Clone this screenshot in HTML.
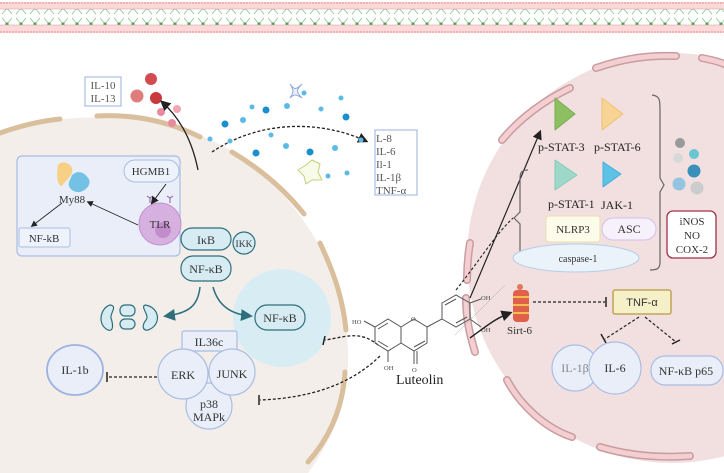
<!DOCTYPE html>
<html><head><meta charset="utf-8"><style>
html,body{margin:0;padding:0;background:#fff;}
svg{display:block;font-family:"Liberation Serif",serif;}
</style></head><body>
<svg width="724" height="473" viewBox="0 0 724 473" xmlns="http://www.w3.org/2000/svg">
<defs>
<pattern id="nv" x="0" y="0" width="14" height="16" patternUnits="userSpaceOnUse">
<path d="M2,2 L7,8 L12,2 M2,14 L7,8 L12,14" stroke="#7cbf7c" stroke-width="0.7" fill="none"/>
<circle cx="7" cy="8" r="1.6" fill="#4fa05a"/>
</pattern>
<marker id="ah" markerWidth="8" markerHeight="8" refX="6" refY="4" orient="auto"><path d="M0,0 L8,4 L0,8 Z" fill="#222"/></marker>
<marker id="aht" markerWidth="8" markerHeight="8" refX="6" refY="4" orient="auto"><path d="M0,0 L8,4 L0,8 Z" fill="#2f6f7c"/></marker>
</defs>
<!-- header band -->
<rect x="0" y="2" width="724" height="31" fill="#fdd9da"/>
<rect x="0" y="9" width="724" height="16" fill="#fff"/>
<rect x="0" y="9" width="724" height="16" fill="url(#nv)"/>
<line x1="0" y1="3" x2="724" y2="3" stroke="#e08a8a" stroke-dasharray="2,1"/>
<line x1="0" y1="32" x2="724" y2="32" stroke="#e08a8a" stroke-dasharray="2,1"/>
<line x1="0" y1="9" x2="724" y2="9" stroke="#c7a0a0" stroke-width="0.6"/>
<line x1="0" y1="25" x2="724" y2="25" stroke="#c7a0a0" stroke-width="0.6"/>

<!-- left cell -->
<path d="M0,132 C60,112 160,108 230,150 C300,195 345,270 348,350 C350,400 332,440 308,473 L0,473 Z" fill="#f3eeea"/>
<g stroke="#d9bf9c" stroke-width="5" fill="none" stroke-linecap="round">
<path d="M0,133 C20,126 40,121 60,119"/>
<path d="M97,116 C135,114 170,122 200,137"/>
<path d="M232,152 C262,170 285,190 304,214"/>
<path d="M320,243 C335,275 343,300 346,330"/>
<path d="M345,372 C343,405 332,435 308,462"/>
</g>

<!-- right cell -->
<circle cx="672" cy="258" r="205" fill="#f2e0e1"/>
<g stroke="#c99ca0" stroke-width="8" fill="none" stroke-linecap="round">
<path d="M502,140 C520,118 545,100 570,88"/>
<path d="M596,68 C625,58 650,55 676,56"/>
<path d="M702,58 C712,60 720,62 724,64"/>
<path d="M470,243 C468,255 467,265 467,280"/>
<path d="M466,298 C466,320 470,335 475,352"/>
<path d="M507,380 C520,405 545,428 572,437"/>
<path d="M600,447 C630,456 660,458 690,456"/>
</g>
<g stroke="#f4cfd1" stroke-width="5" fill="none" stroke-linecap="round">
<path d="M502,140 C520,118 545,100 570,88"/>
<path d="M596,68 C625,58 650,55 676,56"/>
<path d="M702,58 C712,60 720,62 724,64"/>
<path d="M470,243 C468,255 467,265 467,280"/>
<path d="M466,298 C466,320 470,335 475,352"/>
<path d="M507,380 C520,405 545,428 572,437"/>
<path d="M600,447 C630,456 660,458 690,456"/>
</g>

<!-- IL-10 box -->
<rect x="85" y="77" width="36" height="29" fill="#fff" stroke="#a9bde3" stroke-width="1.2"/>
<text x="103" y="89" font-size="11" text-anchor="middle" fill="#555">IL-10</text>
<text x="103" y="102" font-size="11" text-anchor="middle" fill="#555">IL-13</text>
<circle cx="151" cy="79" r="6" fill="#d24b4f"/>
<circle cx="137" cy="96" r="6.5" fill="#e07c7c"/>
<circle cx="156" cy="98" r="6" fill="#c8393d"/>
<circle cx="161" cy="112" r="4" fill="#ea8aa0"/>
<circle cx="177" cy="109" r="4" fill="#f2a6b4"/>
<circle cx="172" cy="123" r="4" fill="#ea8aa0"/>
<path d="M198,170 C192,140 180,118 162,102" stroke="#222" stroke-width="1.3" fill="none" marker-end="url(#ah)"/>

<!-- inner box -->
<rect x="17" y="156" width="163" height="100" rx="5" fill="#e9eef9" stroke="#a9bde3" stroke-width="1.2"/>
<rect x="124" y="160" width="55" height="22" rx="11" fill="#edf2fb" stroke="#a9bde3"/>
<text x="151" y="175" font-size="11" text-anchor="middle" fill="#333">HGMB1</text>
<path d="M58,165 C62,160 70,163 72,168 C74,175 66,180 62,186 C58,186 56,178 58,165Z" fill="#f7cf85"/>
<path d="M72,175 C78,170 84,172 88,178 C92,182 88,190 80,192 C72,193 66,186 70,180Z" fill="#73c2e6"/>
<text x="72" y="203" font-size="11" text-anchor="middle" fill="#333">My88</text>
<circle cx="160" cy="224" r="21" fill="#d6b1df" stroke="#c28fd0"/>
<circle cx="163" cy="230" r="8" fill="#c38ccd"/>
<path d="M150,203 l0,-5 m-3,-2 l3,2 l3,-2 M170,203 l0,-5 m-3,-2 l3,2 l3,-2" stroke="#8e5aa0" fill="none"/>
<text x="160" y="228" font-size="11" text-anchor="middle" fill="#333">TLR</text>
<path d="M166,184 L152,203" stroke="#222" marker-end="url(#ah)"/>
<path d="M138,225 L88,202" stroke="#222" stroke-width="0.8" marker-end="url(#ah)"/>
<path d="M62,203 L32,226" stroke="#222" stroke-width="0.8" marker-end="url(#ah)"/>
<rect x="19" y="228" width="51" height="19" rx="2" fill="#edf2fb" stroke="#a9bde3"/>
<text x="44" y="242" font-size="11" text-anchor="middle" fill="#333">NF-kB</text>

<!-- NF-kB complex -->
<rect x="181" y="228" width="50" height="22" rx="11" fill="#d6ecf2" stroke="#2f6f7c" stroke-width="1.2"/>
<text x="206" y="244" font-size="12" text-anchor="middle" fill="#333">IκB</text>
<circle cx="244" cy="243" r="11" fill="#d6ecf2" stroke="#2f6f7c" stroke-width="1.2"/>
<text x="244" y="247" font-size="9.5" text-anchor="middle" fill="#333">IKK</text>
<rect x="181" y="256" width="50" height="25" rx="12" fill="#d6ecf2" stroke="#2f6f7c" stroke-width="1.2"/>
<text x="206" y="273" font-size="12" text-anchor="middle" fill="#333">NF-κB</text>
<circle cx="282" cy="318" r="49" fill="#d7edf3"/>
<path d="M200,287 C198,305 190,313 166,316" stroke="#2f6f7c" stroke-width="1.5" fill="none" marker-end="url(#aht)"/>
<path d="M213,287 C218,305 230,314 250,316" stroke="#2f6f7c" stroke-width="1.5" fill="none" marker-end="url(#aht)"/>
<rect x="255" y="305" width="50" height="25" rx="12" fill="#d6ecf2" stroke="#2f6f7c" stroke-width="1.2"/>
<text x="280" y="322" font-size="12" text-anchor="middle" fill="#333">NF-κB</text>
<g fill="#d6ecf2" stroke="#2f6f7c" stroke-width="1.2">
<path d="M110,305 C100,308 97,325 108,330 C114,332 113,324 111,318 C110,313 118,306 110,305Z"/>
<rect x="120" y="305" width="15" height="11" rx="5"/>
<rect x="120" y="319" width="15" height="10" rx="5"/>
<path d="M145,305 C160,307 162,325 148,330 C142,331 142,325 146,320 C150,315 140,307 145,305Z"/>
</g>

<!-- MAPK -->
<rect x="182" y="331" width="55" height="20" rx="2" fill="#e9eef9" stroke="#a9bde3" stroke-width="1.2"/>
<text x="209" y="346" font-size="12" text-anchor="middle" fill="#333">IL36c</text>
<circle cx="209" cy="406" r="23" fill="#e9eef9" stroke="#a9bde3" stroke-width="1.2"/>
<circle cx="183" cy="374" r="25" fill="#e9eef9" stroke="#a9bde3" stroke-width="1.2"/>
<circle cx="232" cy="372" r="23" fill="#e9eef9" stroke="#a9bde3" stroke-width="1.2"/>
<text x="183" y="379" font-size="12" text-anchor="middle" fill="#333">ERK</text>
<text x="232" y="378" font-size="12" text-anchor="middle" fill="#333">JUNK</text>
<text x="209" y="408" font-size="12" text-anchor="middle" fill="#333">p38</text>
<text x="209" y="421" font-size="12" text-anchor="middle" fill="#333">MAPk</text>
<ellipse cx="75" cy="370" rx="28" ry="25" fill="#e9eef9" stroke="#9db2e0" stroke-width="1.8"/>
<text x="75" y="374" font-size="12" text-anchor="middle" fill="#333">IL-1b</text>
<path d="M157,377 L108,377" stroke="#222" stroke-width="1.3" stroke-dasharray="3,2"/>
<path d="M107,372 L107,382" stroke="#222" stroke-width="1.5"/>

<!-- Luteolin inhibition lines -->
<path d="M378,345 C360,330 345,337 325,340" stroke="#222" stroke-width="1.3" stroke-dasharray="3,2" fill="none"/>
<path d="M325,336 L323,345" stroke="#222" stroke-width="1.5"/>
<path d="M380,356 C350,385 310,398 260,400" stroke="#222" stroke-width="1.3" stroke-dasharray="3,2" fill="none"/>
<path d="M259,395 L259,405" stroke="#222" stroke-width="1.5"/>

<!-- cytokine cloud -->
<path d="M212,152 C260,120 320,120 366,141" stroke="#222" stroke-width="1.3" stroke-dasharray="3,2" fill="none" marker-end="url(#ah)"/>
<g fill="#1a8fcb">
<circle cx="225" cy="124" r="3.5"/><circle cx="266" cy="110" r="3.5"/><circle cx="256" cy="153" r="3.5"/><circle cx="310" cy="152" r="3.5"/><circle cx="346" cy="117" r="3.5"/></g>
<g fill="#5bbbe6">
<circle cx="210" cy="139" r="2.5"/><circle cx="243" cy="120" r="3"/><circle cx="252" cy="107" r="2.5"/><circle cx="287" cy="106" r="3"/><circle cx="304" cy="93" r="2.5"/><circle cx="321" cy="109" r="2.5"/><circle cx="341" cy="98" r="2.5"/><circle cx="230" cy="141" r="2.5"/><circle cx="271" cy="135" r="2.5"/><circle cx="286" cy="146" r="3"/><circle cx="335" cy="148" r="3"/><circle cx="328" cy="176" r="2.5"/><circle cx="347" cy="173" r="2.5"/><circle cx="361" cy="140" r="2.5"/></g>
<path d="M290,84 C294,90 296,90 302,84 C296,90 296,92 302,98 C296,94 294,94 290,98 C294,92 294,90 290,84Z" fill="#eaf0fb" stroke="#8ea6dc"/>
<path d="M306,165 L312,160 L320,164 L318,172 L322,180 L312,180 L306,184 L304,176 L298,170 Z" fill="#f8fbe9" stroke="#c2d07a" stroke-linejoin="round"/>
<rect x="375" y="130" width="42" height="65" fill="#fff" stroke="#a9bde3" stroke-width="1.2"/>
<g font-size="11" fill="#555"><text x="376" y="142">L-8</text><text x="376" y="155">IL-6</text><text x="376" y="168">Il-1</text><text x="376" y="181">IL-1β</text><text x="376" y="194">TNF-α</text></g>

<!-- Luteolin structure -->
<g stroke="#555" stroke-width="1" fill="none">
<path d="M375,327 L388,319 L401,327 L401,343 L388,351 L375,343 Z"/>
<path d="M378,329 L388,323 M378,341 L388,347"/>
<path d="M401,327 L414,319 L427,327 L427,343 L414,351 L401,343"/>
<path d="M425,341 L414,347"/>
<path d="M427,327 L442,319 L442,303 L456,295 L470,303 L470,319 L456,327 L442,319"/>
<path d="M445,305 L456,299 M467,317 L456,323"/>
<path d="M414,351 L414,364 M417,351 L417,364 M388,351 L388,362 M375,327 L364,321 M470,303 L481,299 M470,319 L481,327"/>
</g>
<g font-size="6.5" fill="#444"><text x="352" y="324">HO</text><text x="384" y="370">OH</text><text x="412" y="372">O</text><text x="411" y="321">O</text><text x="481" y="300">OH</text><text x="481" y="332">OH</text></g>
<text x="396" y="384" font-size="14" fill="#222">Luteolin</text>
<path d="M455,335 L505,285" stroke="#aaa" stroke-width="0.5"/>

<!-- Right cell content -->
<path d="M470,298 L540,132" stroke="#222" stroke-width="1.2" marker-end="url(#ah)"/>
<path d="M456,290 C480,260 495,235 513,218" stroke="#222" stroke-width="1.1" stroke-dasharray="3,2" fill="none"/>
<path d="M555,98 L575,114 L555,130 Z" fill="#8cc063" stroke="#78ad52" stroke-linejoin="round"/>
<path d="M602,98 L623,114 L602,130 Z" fill="#f8d494" stroke="#f0c070" stroke-linejoin="round"/>
<path d="M555,160 L577,175 L555,190 Z" fill="#9ed8c8" stroke="#84cab6" stroke-linejoin="round"/>
<path d="M603,162 L621,174 L603,187 Z" fill="#5ec2e6" stroke="#43b0dc" stroke-linejoin="round"/>
<g font-size="12" fill="#222"><text x="538" y="151">p-STAT-3</text><text x="594" y="151">p-STAT-6</text><text x="548" y="208">p-STAT-1</text><text x="601" y="209">JAK-1</text></g>
<path d="M652,95 C660,96 660,100 660,110 L660,178 L664,185 L660,192 L660,262 C660,268 658,270 650,270" stroke="#666" stroke-width="1.2" fill="none"/>
<path d="M528,170 C520,170 520,174 520,180 L520,212 L514,218 L520,224 L520,256 C520,260 524,262 530,262" stroke="#666" stroke-width="1.2" fill="none"/>
<rect x="546" y="216" width="54" height="26" rx="3" fill="#fdfbea" stroke="#e8e0b0"/>
<text x="573" y="233" font-size="11" text-anchor="middle" fill="#333">NLRP3</text>
<rect x="602" y="218" width="54" height="22" rx="11" fill="#f6f1fb" stroke="#d4bfe8"/>
<text x="629" y="233" font-size="12" text-anchor="middle" fill="#333">ASC</text>
<ellipse cx="576" cy="258" rx="63" ry="14" fill="#eaf2fa" stroke="#b8cce6"/>
<text x="578" y="262" font-size="10" text-anchor="middle" fill="#333">caspase-1</text>
<circle cx="680" cy="143" r="5" fill="#9a9a9a"/>
<circle cx="678" cy="158" r="5" fill="#d8d8d8"/>
<circle cx="694" cy="154" r="5" fill="#66c6d2"/>
<circle cx="694" cy="171" r="6.5" fill="#3a90b8"/>
<circle cx="679" cy="184" r="6.5" fill="#93c4e0"/>
<circle cx="697" cy="188" r="6.5" fill="#cccccc"/>
<rect x="667" y="211" width="49" height="47" rx="6" fill="#fff" stroke="#a0304a" stroke-width="1.3"/>
<g font-size="11" fill="#333" text-anchor="middle"><text x="692" y="225">iNOS</text><text x="692" y="239">NO</text><text x="692" y="253">COX-2</text></g>

<!-- Sirt-6 -->
<g>
<rect x="513" y="290" width="16" height="32" rx="4" fill="#e0604a"/>
<g stroke="#f2c050" stroke-width="2"><line x1="513" y1="297" x2="529" y2="297"/><line x1="513" y1="305" x2="529" y2="305"/><line x1="513" y1="313" x2="529" y2="313"/></g>
<circle cx="520" cy="287" r="3" fill="#e0765a"/>
</g>
<text x="507" y="334" font-size="11" fill="#333">Sirt-6</text>
<path d="M470,338 C488,325 496,318 510,313" stroke="#222" stroke-width="1.4" fill="none" marker-end="url(#ah)"/>
<path d="M533,302 L605,302" stroke="#222" stroke-width="1.3" stroke-dasharray="3,2"/>
<path d="M606,297 L606,307" stroke="#222" stroke-width="1.5"/>
<rect x="613" y="290" width="58" height="24" rx="2" fill="#f6f0c8" stroke="#b7993f" stroke-width="1.3"/>
<text x="642" y="306" font-family="Liberation Sans,sans-serif" font-size="11" text-anchor="middle" fill="#333">TNF-α</text>
<path d="M639,317 L605,339" stroke="#222" stroke-width="1.2" stroke-dasharray="3,2"/>
<path d="M601,334 L606,343" stroke="#222" stroke-width="1.5"/>
<path d="M645,317 L676,342" stroke="#222" stroke-width="1.2" stroke-dasharray="3,2"/>
<path d="M672,344 L680,340" stroke="#222" stroke-width="1.5"/>
<circle cx="575" cy="368" r="23" fill="#e9eef9" stroke="#a9bde3" stroke-width="1.2"/>
<circle cx="615" cy="368" r="26" fill="#e9eef9" stroke="#a9bde3" stroke-width="1.2"/>
<text x="575" y="372" font-size="12" text-anchor="middle" fill="#888">IL-1β</text>
<text x="615" y="372" font-size="12" text-anchor="middle" fill="#333">IL-6</text>
<rect x="651" y="356" width="72" height="29" rx="14" fill="#e9eef9" stroke="#a9bde3" stroke-width="1.2"/>
<text x="686" y="375" font-size="12" text-anchor="middle" fill="#333">NF-κB p65</text>
</svg>
</body></html>
